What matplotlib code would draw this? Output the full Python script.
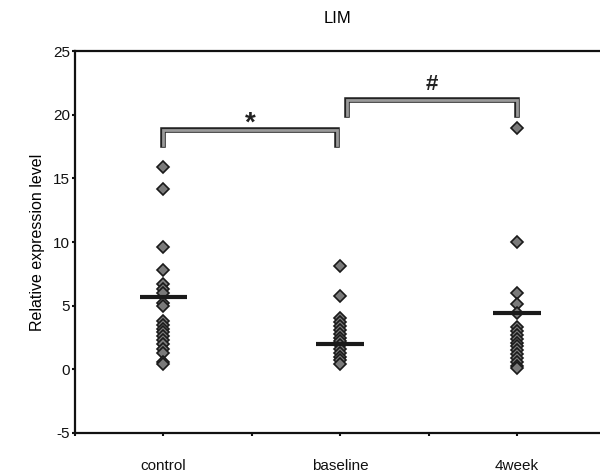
import numpy as np
import matplotlib
matplotlib.use("Agg")
import matplotlib.pyplot as plt
import matplotlib.patheffects as pe

plt.rcParams['font.family'] = ['Liberation Sans', 'DejaVu Sans']
plt.rcParams['axes.unicode_minus'] = False

groups = ["control", "baseline", "4week"]

control = [15.9, 14.2, 9.6, 7.8, 6.7, 6.3, 6.0, 5.2, 5.0, 3.8, 3.5, 3.2,
           2.9, 2.6, 2.3, 2.0, 1.6, 1.3, 0.6, 0.4]
baseline = [8.1, 5.8, 4.0, 3.7, 3.4, 3.1, 2.8, 2.5, 2.2, 1.9, 1.6, 1.3,
            1.0, 0.7, 0.4]
week4 = [19.0, 10.0, 6.0, 5.1, 4.4, 3.3, 3.0, 2.7, 2.4, 2.1, 1.8, 1.5,
         1.2, 0.9, 0.6, 0.3, 0.1]
mean_lines = [5.7, 2.0, 4.4]

# significance brackets: (x_left, x_right, y_top, y_leg_end, label, label_y)
brackets = [(1.0, 1.98, 18.8, 17.6, "*", 19.3), (2.04, 3.0, 21.2, 20.0, "#", 22.4)]

fig = plt.figure(figsize=(6.0, 4.74), dpi=100)
ax = fig.add_axes([0.125, 0.0865, 0.875, 0.8055])

for i, vals in enumerate([control, baseline, week4]):
    x = np.full(len(vals), i + 1)
    ax.plot(x, vals, linestyle="none", marker="D", markersize=6,
            markerfacecolor="#7a7a7a", markeredgecolor="#1a1a1a",
            markeredgewidth=1.2, zorder=3)
    ax.plot([i + 1 - 0.135, i + 1 + 0.135], [mean_lines[i]] * 2,
            color="#1a1a1a", lw=3, solid_capstyle="butt", zorder=4)

stroke = [pe.Stroke(linewidth=4.0, foreground="#222222"), pe.Normal()]
for x0, x1, ytop, yleg, lab, ly in brackets:
    ax.plot([x0, x0, x1, x1], [yleg, ytop, ytop, yleg], color="#9a9a9a",
            lw=2.0, solid_joinstyle="miter", path_effects=stroke, zorder=2)
    ax.text((x0 + x1) / 2, ly, lab, ha="center", va="center",
            fontsize=20 if lab == "*" else 16, fontweight="bold",
            color="#222222")

ax.set_xlim(0.5, 3.47)
ax.set_ylim(-5, 25)
ax.set_yticks([-5, 0, 5, 10, 15, 20, 25])
ax.set_xticks([0.5, 1, 1.5, 2, 2.5, 3])
ax.set_xticklabels(["", "control", "", "baseline", "", "4week"])
ax.tick_params(axis="both", direction="out", length=2.5, width=1.5,
               labelsize=11, colors="#111111")
ax.tick_params(axis="x", pad=16)
ax.tick_params(axis="y", pad=1)

for side in ["left", "top", "bottom"]:
    ax.spines[side].set_linewidth(1.6)
    ax.spines[side].set_color("#111111")
ax.spines["right"].set_visible(False)

ax.set_ylabel("Relative expression level", fontsize=11.5, labelpad=6)
ax.set_title("LIM", fontsize=12, pad=20)

fig.savefig("out.png", dpi=100)
